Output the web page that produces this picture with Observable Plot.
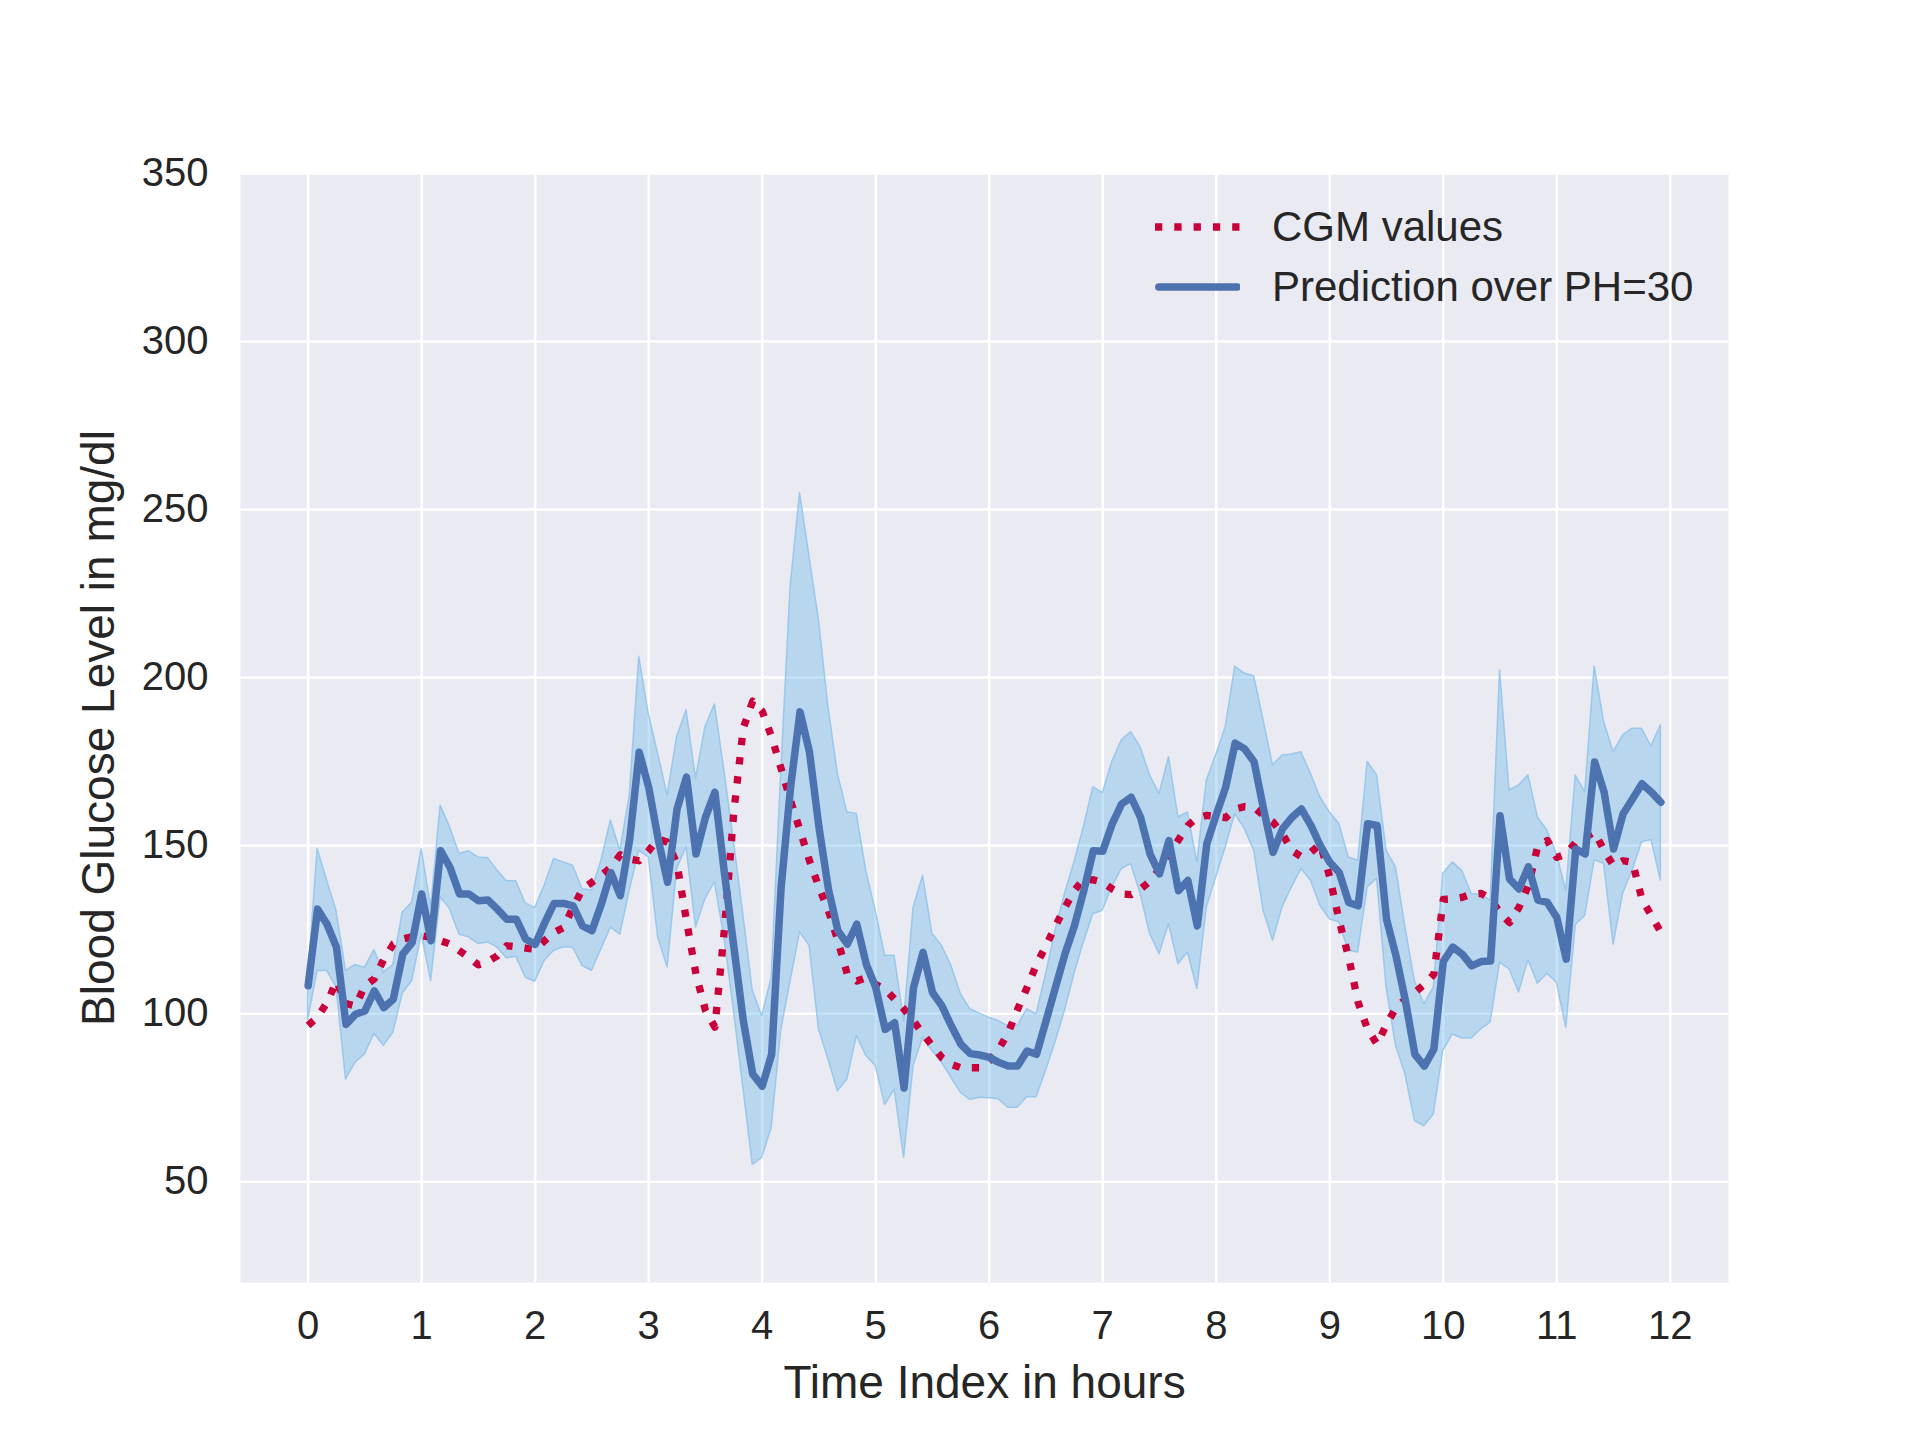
<!DOCTYPE html>
<html><head><meta charset="utf-8">
<script src="https://cdn.jsdelivr.net/npm/d3@7"></script>
<script src="https://cdn.jsdelivr.net/npm/@observablehq/plot@0.6"></script>
<style>
body{margin:0;background:#fff;}
#wrap{position:relative;width:1920px;height:1440px;font-family:"Liberation Sans",Arial,sans-serif;color:#262626;}
#legend{position:absolute;left:1150px;top:197px;font-size:42px;}
#legend .row{display:flex;align-items:center;height:60px;}
#legend svg{margin-right:32px;}
</style></head><body><div id="wrap"></div>
<script>
const cgm = [96.5,99,103.3,109.7,103,102.3,108.3,110.4,116.2,120.7,122.2,122.9,123.2,122.7,121.7,120.7,118.7,116.7,114.5,115.5,117.2,120.2,119.9,119.5,119.2,121.7,124.2,125.6,131.6,137.1,139.1,141.1,143.5,147.3,146,145.5,148.5,152,151,144.5,127.6,111.7,101,96,125,160,185,193,190,182.3,172.9,163.4,154.5,145.5,137.6,130.6,121.7,111.7,109.7,110.7,108.7,107.3,104.3,101.3,97.8,94,90.4,86.9,84.9,83.9,83.9,83.9,86,89.4,94.3,101.3,107.8,114.7,120.2,126.1,131.6,136.6,140.1,139.8,139.1,137.1,135.6,135.4,137.1,139.4,143,147.5,151.7,156,158.3,159,158.6,158.3,160.9,161.6,161.4,158.9,157,153.5,148.5,146.7,148,150.5,140.6,127.6,116.7,103.3,95.3,90.9,96.8,101.8,104.3,106.3,108.7,111.7,134,134.1,134.6,135.6,135.8,134.1,130.1,127.1,131.6,138.1,150,151.5,146.5,147.5,151,152.5,154,148.5,144,145.5,145,134.1,129.1,124.2];
const pred = [108.3,131.1,126.6,119.7,96.8,99.8,100.8,106.8,101.8,104.3,117.7,121.2,135.6,121.7,148.5,143.5,135.6,135.6,133.6,133.8,131.1,128.1,128.1,122.2,120.6,127,132.8,132.8,132.1,126.1,124.7,132.6,142,135.1,152,177.8,167.4,152,139.1,160.9,170.4,147.5,158.4,165.9,142,120,98,82,78.4,87.9,137.6,167.4,189.8,177.8,155.5,137.1,124.7,120.7,126.6,114.7,107.8,95.3,97.3,77.9,107.8,118.2,106.3,102.3,96.3,90.9,88.1,87.7,87,85.5,84.4,84.4,88.9,87.9,97.8,107.8,117.7,126.1,136.6,148.5,148.3,156.5,162.4,164.4,158.4,147.5,141.6,151.5,136.6,139.6,126.1,150.5,159.2,167.4,180.5,178.8,174.9,160.9,148,155,158.4,160.9,156,150,145,142,133.1,132.1,156.5,156,128.1,117.2,103.8,87.9,84.4,89.4,115.5,119.8,117.7,114.2,115.5,115.7,158.9,140.1,137.1,143.7,133.8,133.1,128.6,116.2,149,147.5,174.9,165.9,149,159.4,163.9,168.4,165.9,162.9];
const upper = [110,149,139.6,130.6,112.7,114.5,113.7,118.9,112.2,114.5,130.1,133.1,149,131.6,161.9,155.5,147.5,148.3,146.5,146.3,142.7,139.4,139.4,132.8,131.4,138.1,146,145,144,137.1,136.6,145.5,157.5,148.5,164.9,206.2,189.3,177.3,164.9,182.3,190.3,169.9,185.3,192,172.4,151.5,129.6,106.8,99.3,110.7,171.4,227,254.9,236,217.1,191.3,171.4,159.9,159.4,142.5,130.6,117.2,117.2,97.8,131.6,141,123.7,120.2,114.2,105.8,101.3,100,98.8,97.8,96.3,96.3,101.3,99.8,111.7,124.7,135.6,145,155.5,167.4,165.6,174.9,181.3,183.8,179.3,170.9,165.4,176.3,158.4,159.9,145,169.4,177,185.3,203.2,201.2,200.4,187.3,173.9,176.8,177.1,177.8,171.4,164.4,159.9,156.5,146.5,145.5,174.9,170.9,148.5,143.5,125.6,109.7,102.8,107.8,141.6,145,142.5,135.6,135.4,133.6,202.2,166.4,167.9,170.9,158.4,154.5,147.5,136.6,170.9,165.9,203.2,186.8,177.8,182.8,184.8,184.8,179.5,185.8];
const lower = [98,112.7,112.7,107.8,80.4,85.4,87.9,94,90.4,94.3,106,109.7,123.7,109.7,134.6,131.1,123.5,122.7,120.7,121.2,119.7,116.5,116.9,110.7,109.5,115.7,118.7,119.7,119.7,114.2,112.7,119.2,125.6,123.5,136.6,148.5,146.5,122.7,113.7,143,149.5,125.6,134.1,139.1,122.7,101,78,55,57.1,66,94.8,109.7,124.2,120.2,95.3,86.4,76.9,80.4,93.3,87.4,84.4,72.8,77.4,57.1,84.4,92.8,88.9,85.4,80.9,76.4,74.3,75,74.8,74.5,72,72,75.1,75.1,82.9,91.4,100.8,111.7,121.2,129.6,130.6,137.6,143,144.5,135.6,123.7,117.7,126.6,114.7,118.2,107.3,131.6,140.5,149.5,159.4,155,148.5,130.6,121.7,131.6,137.6,143,139.6,132.1,128.1,127.1,118.7,118.2,137.6,140.1,107.8,90.4,81.9,68,66.5,70,88.9,93.8,92.6,92.6,95.3,97.3,115.2,113.2,106.3,115.9,108.9,111.9,109.2,95.8,126.4,129.1,145.7,144.5,120.5,135.6,142.5,151,151.7,139.6];
const xTicks = [0,1,2,3,4,5,6,7,8,9,10,11,12];
const yTicks = [50,100,150,200,250,300,350];
const stepMinutes = 5;
const xLabel = "Time Index in hours";
const yLabel = "Blood Glucose Level in mg/dl";
const legendLabels = ["CGM values", "Prediction over PH=30"];

const data = pred.map((p, i) => ({t: i * stepMinutes / 60, cgm: cgm[i], pred: p, lo: lower[i], hi: upper[i]}));
const tMax = data[data.length - 1].t;
const pad = tMax * 0.05;

const RED = "#C9003A", BLUE = "#4C72B0";
const chart = Plot.plot({
  width: 1920, height: 1440,
  marginLeft: 240, marginRight: 192, marginTop: 173, marginBottom: 158,
  style: {fontFamily: '"Liberation Sans", Arial, sans-serif', color: "#262626", background: "white", overflow: "visible"},
  x: {domain: [-pad, tMax + pad]},
  y: {domain: [20, 350]},
  marks: [
    Plot.frame({fill: "#EAEAF2", stroke: null}),
    Plot.gridX(xTicks, {stroke: "white", strokeOpacity: 1, strokeWidth: 2.5}),
    Plot.gridY(yTicks, {stroke: "white", strokeOpacity: 1, strokeWidth: 2.5}),
    Plot.areaY(data, {x: "t", y1: "lo", y2: "hi", fill: "#6DB8E8", fillOpacity: 0.4, stroke: "#8DC2EA", strokeWidth: 1.5, strokeOpacity: 0.8}),
    Plot.line(data, {x: "t", y: "cgm", stroke: RED, strokeWidth: 7.3, strokeDasharray: "7.3,12", strokeLinecap: "butt"}),
    Plot.line(data, {x: "t", y: "pred", stroke: BLUE, strokeWidth: 7.5, strokeLinejoin: "round", strokeLinecap: "round"}),
    Plot.axisX(xTicks, {tickSize: 0, tickPadding: 28, fontSize: 40, label: null, tickFormat: d => String(d)}),
    Plot.axisY(yTicks, {tickSize: 0, tickPadding: 32, fontSize: 40, label: null, tickFormat: d => String(d)}),
    Plot.text([xLabel], {text: d => d, frameAnchor: "bottom", dy: 101, lineAnchor: "middle", textAnchor: "middle", fontSize: 46, fill: "#262626"}),
    Plot.text([yLabel], {text: d => d, frameAnchor: "left", dx: -141, rotate: -90, lineAnchor: "middle", textAnchor: "middle", fontSize: 46, fill: "#262626"})
  ]
});
const wrap = document.getElementById("wrap");
wrap.appendChild(chart);

const legend = document.createElement("div");
legend.id = "legend";
legend.innerHTML = `
<div class="row"><svg width="90" height="20"><line x1="5" y1="10" x2="91" y2="10" stroke="${RED}" stroke-width="7.3" stroke-dasharray="7.3,12"/></svg><span>${legendLabels[0]}</span></div>
<div class="row"><svg width="90" height="20"><line x1="8.7" y1="10" x2="87.3" y2="10" stroke="${BLUE}" stroke-width="7.3" stroke-linecap="round"/></svg><span>${legendLabels[1]}</span></div>`;
wrap.appendChild(legend);
</script></body></html>
